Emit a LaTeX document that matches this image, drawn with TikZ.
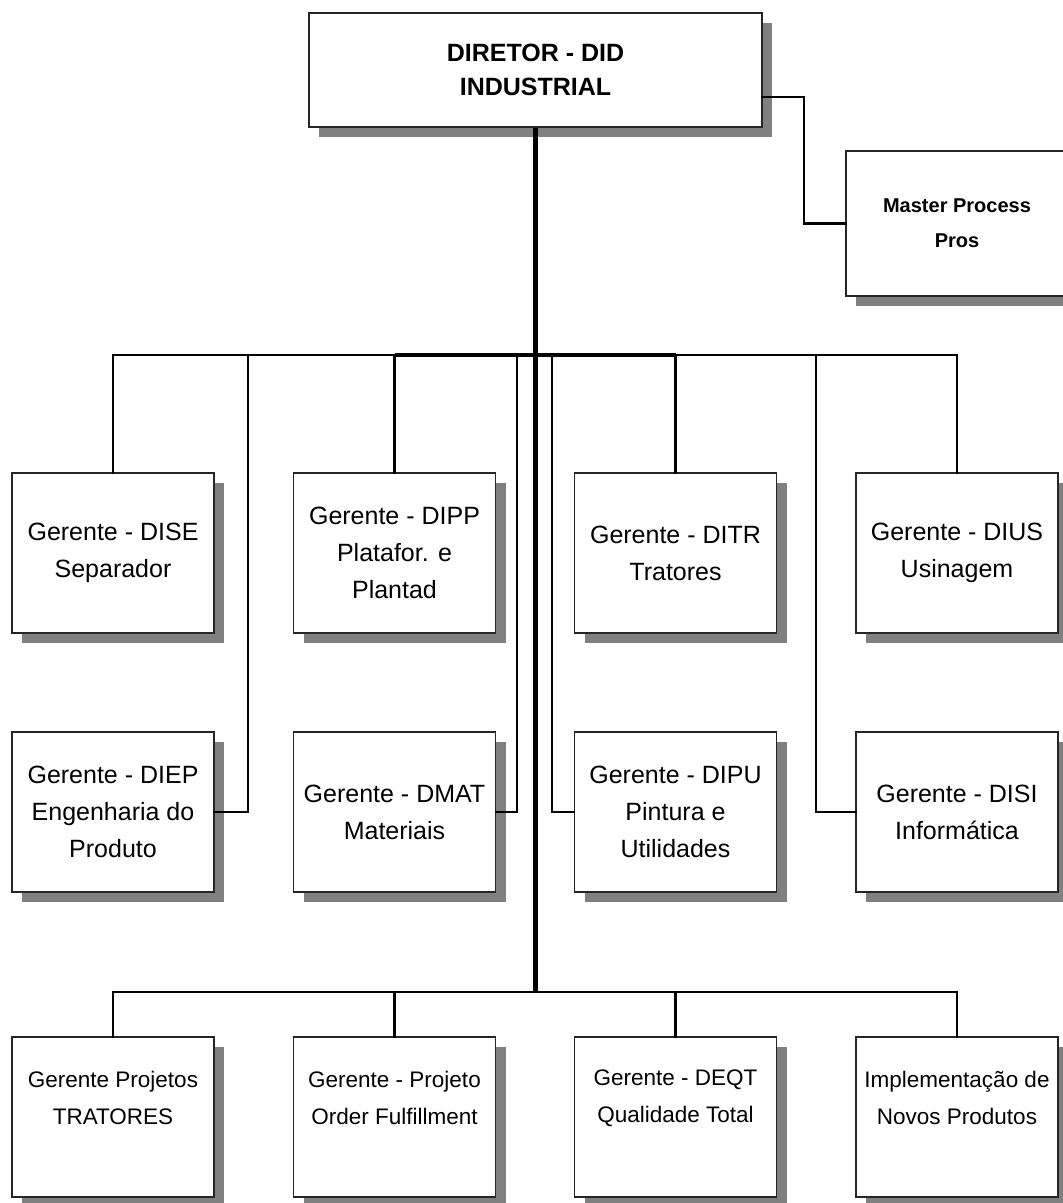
\documentclass[tikz,border=0pt]{standalone}
\usepackage{fontspec}
\setmainfont{Liberation Sans}
\usetikzlibrary{shadows}
\definecolor{shadowgray}{HTML}{808080}
\tikzset{
  box/.style={draw=black!85, line width=1.2pt, fill=white, inner sep=0pt, align=center,
    drop shadow={shadow xshift=10pt, shadow yshift=-10pt, fill=shadowgray, opacity=1}},
  unit/.style={box, minimum width=202pt, minimum height=160pt,
    font=\fontsize{25}{37}\selectfont},
  project/.style={box, minimum width=202pt, minimum height=160pt},
  projtext/.style={inner sep=0pt, align=center, font=\fontsize{22.5}{37}\selectfont},
  link/.style={line width=2.6pt, line cap=rect},
  trunk/.style={line width=4.2pt},
  heavybus/.style={line width=3.8pt},
}
\begin{document}
\begin{tikzpicture}[x=1pt, y=-1pt]
  \useasboundingbox (0,0) rectangle (1063,1203);

  % junction points of the trunk
  \coordinate (ub) at (535.5,355);
  \coordinate (lb) at (535.5,992);
  \coordinate (elbow) at (804,97);
  \coordinate (tapA) at (248,355);
  \coordinate (tapB) at (517,355);
  \coordinate (tapC) at (552,355);
  \coordinate (tapD) at (816,355);

  % director and staff position
  \node[box, minimum width=453pt, minimum height=114pt,
        font=\bfseries\fontsize{25}{34}\selectfont] (dir) at (535.5,70)
        {DIRETOR - DID\\INDUSTRIAL};
  \node[box, minimum width=222pt, minimum height=145pt,
        font=\bfseries\fontsize{20}{35}\selectfont] (mp) at (957,223.5)
        {Master Process\\Pros};

  % first row of managers
  \node[unit] (dise) at (113,553)   {Gerente - DISE\\Separador};
  \node[unit] (dipp) at (394.5,553) {Gerente - DIPP\\Platafor. e\\Plantad};
  \node[unit] (ditr) at (675.5,553) {Gerente - DITR\\Tratores};
  \node[unit] (dius) at (957,553)   {Gerente - DIUS\\Usinagem};

  % second row of managers
  \node[unit] (diep) at (113,812)   {Gerente - DIEP\\Engenharia do\\Produto};
  \node[unit] (dmat) at (394.5,812) {Gerente - DMAT\\Materiais};
  \node[unit] (dipu) at (675.5,812) {Gerente - DIPU\\Pintura e\\Utilidades};
  \node[unit] (disi) at (957,812)   {Gerente - DISI\\Informática};

  % project managers
  \node[project] (tra) at (113,1117)   {};
  \node[project] (ord) at (394.5,1117) {};
  \node[project] (deq) at (675.5,1117) {};
  \node[project] (npd) at (957,1117)   {};
  \node[projtext] (traT) at ([yshift=19pt]tra.center) {Gerente Projetos\\TRATORES};
  \node[projtext] (ordT) at ([yshift=19pt]ord.center) {Gerente - Projeto\\Order Fulfillment};
  \node[projtext] (deqT) at ([yshift=19pt]deq.center) {Gerente - DEQT\\Qualidade Total};
  \node[projtext] (npdT) at ([yshift=19pt]npd.center) {Implementação de\\Novos Produtos};

  % staff link
  \draw[link] ([yshift=-27pt]dir.east) -- (elbow) |- (mp.west);

  % trunk
  \draw[trunk] (dir.south) -- (lb);

  % upper distribution bar
  \draw[link] (dise.north |- ub) -- (dipp.north |- ub);
  \draw[heavybus] (dipp.north |- ub) -- (ditr.north |- ub);
  \draw[link] (ditr.north |- ub) -- (dius.north |- ub);
  \draw[link] (dise.north |- ub) -- (dise.north);
  \draw[link] (dipp.north |- ub) -- (dipp.north);
  \draw[link] (ditr.north |- ub) -- (ditr.north);
  \draw[link] (dius.north |- ub) -- (dius.north);
  \draw[link] (tapA) |- (diep.east);
  \draw[link] (tapB) |- (dmat.east);
  \draw[link] (tapC) |- (dipu.west);
  \draw[link] (tapD) |- (disi.west);

  % lower distribution bar
  \draw[link] (tra.north |- lb) -- (npd.north |- lb);
  \draw[link] (tra.north |- lb) -- (tra.north);
  \draw[link] (ord.north |- lb) -- (ord.north);
  \draw[link] (deq.north |- lb) -- (deq.north);
  \draw[link] (npd.north |- lb) -- (npd.north);
\end{tikzpicture}
\end{document}
